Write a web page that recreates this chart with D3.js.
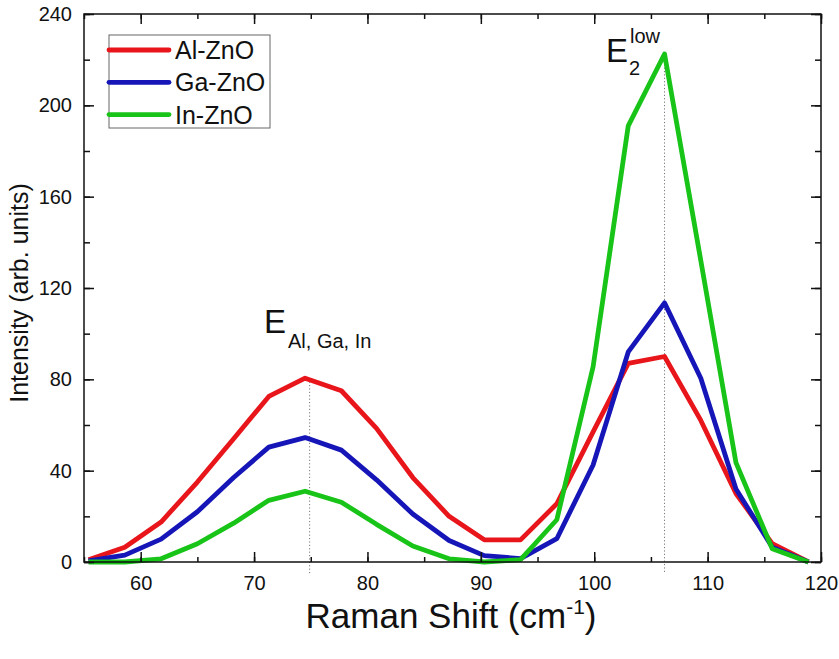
<!DOCTYPE html>
<html>
<head>
<meta charset="utf-8">
<script src="https://cdn.jsdelivr.net/npm/d3@7/dist/d3.min.js"></script>
<style>
  html, body { margin: 0; padding: 0; background: #fff; }
  svg { display: block; }
  text { font-family: "Liberation Sans", Arial, sans-serif; fill: #111; }
</style>
</head>
<body>
<svg id="chart" width="839" height="659"></svg>
<script>
// Raman shift sample positions (cm^-1)
const shift = [55.4, 58.6, 61.8, 65.0, 68.2, 71.3, 74.5, 77.7, 80.8, 84.0, 87.2,
               90.3, 93.5, 96.7, 99.9, 103.0, 106.2, 109.4, 112.5, 115.7, 118.9];

// Intensity (arb. units) for each doped film
const alZnO = [1, 6.5, 17.5, 35, 54, 72.5, 80.5, 75, 58.5, 37, 20,
               9.7, 9.7, 25.5, 57, 87, 90, 62, 30, 8, 0];
const gaZnO = [0.5, 3, 10, 22, 37, 50.3, 54.5, 49, 36, 21, 9.4,
               2.8, 1.5, 10.2, 42.5, 92, 113.5, 80.5, 32, 6.5, 0];
const inZnO = [0, 0, 1.4, 8, 17, 27, 31, 26.2, 16.5, 7, 1.4,
               0, 1, 18.5, 85.5, 191, 222.5, 132, 43.5, 5.8, 0];

const seriesNames = ["Al-ZnO", "Ga-ZnO", "In-ZnO"];
const seriesColors = ["#e8151b", "#1515b8", "#18c418"];
const seriesValues = [alZnO, gaZnO, inZnO];

// Axis ticks
const xTicks = [60, 70, 80, 90, 100, 110, 120];
const yTicks = [0, 40, 80, 120, 160, 200, 240];

// Mode positions marked with dotted guides
const modeShifts = [74.9, 106.2];

const svg = d3.select("#chart");
const margin = {left: 84, top: 14, right: 18, bottom: 97};
const W = 839, H = 659;
const x = d3.scaleLinear().domain([55, 120]).range([margin.left, W - margin.right]);
const y = d3.scaleLinear().domain([0, 240]).range([H - margin.bottom, margin.top]);

// Dotted guides at the two mode positions
const peakOf = s => d3.max(seriesValues, v => v[d3.minIndex(shift, d => Math.abs(d - s))]);
svg.append("g").selectAll("line").data(modeShifts).join("line")
  .attr("x1", d => x(d)).attr("x2", d => x(d))
  .attr("y1", d => y(peakOf(d))).attr("y2", y(0) + 12)
  .attr("stroke", "#777").attr("stroke-width", 1)
  .attr("stroke-dasharray", "1.2,2.2");

// Spectra
const line = d3.line().x((d, i) => x(shift[i])).y(d => y(d));
svg.append("g").selectAll("path").data(seriesValues).join("path")
  .attr("d", d => line(d))
  .attr("fill", "none")
  .attr("stroke", (d, i) => seriesColors[i])
  .attr("stroke-width", 4.8)
  .attr("stroke-linejoin", "round");

// Axes: ticks point inward on all four sides
const tickFont = "20px";
const minorX = d3.range(55, 121, 5);
const minorY = d3.range(0, 241, 20);

function styleAxis(g) {
  g.selectAll(".domain").remove();
  g.selectAll(".tick line").attr("stroke", "#111").attr("stroke-width", 1.5);
  g.selectAll(".tick text").style("font-size", tickFont)
    .style("font-family", "'Liberation Sans', Arial, sans-serif").attr("fill", "#111");
}

// bottom
svg.append("g").attr("transform", `translate(0,${y(0)})`)
  .call(d3.axisBottom(x).tickValues(minorX).tickSize(-5).tickFormat(""))
  .call(styleAxis);
svg.append("g").attr("transform", `translate(0,${y(0)})`)
  .call(d3.axisBottom(x).tickValues(xTicks).tickSize(-10).tickPadding(14).tickFormat(d3.format("d")))
  .call(styleAxis);
// top
svg.append("g").attr("transform", `translate(0,${y(240)})`)
  .call(d3.axisTop(x).tickValues(minorX).tickSize(-5).tickFormat(""))
  .call(styleAxis);
svg.append("g").attr("transform", `translate(0,${y(240)})`)
  .call(d3.axisTop(x).tickValues(xTicks).tickSize(-10).tickFormat(""))
  .call(styleAxis);
// left
svg.append("g").attr("transform", `translate(${x(55)},0)`)
  .call(d3.axisLeft(y).tickValues(minorY).tickSize(-6).tickFormat(""))
  .call(styleAxis);
svg.append("g").attr("transform", `translate(${x(55)},0)`)
  .call(d3.axisLeft(y).tickValues(yTicks).tickSize(-10).tickPadding(12).tickFormat(d3.format("d")))
  .call(styleAxis);
// right
svg.append("g").attr("transform", `translate(${x(120)},0)`)
  .call(d3.axisRight(y).tickValues(minorY).tickSize(-6).tickFormat(""))
  .call(styleAxis);
svg.append("g").attr("transform", `translate(${x(120)},0)`)
  .call(d3.axisRight(y).tickValues(yTicks).tickSize(-10).tickFormat(""))
  .call(styleAxis);

// Frame
svg.append("rect")
  .attr("x", x(55)).attr("y", y(240))
  .attr("width", x(120) - x(55)).attr("height", y(0) - y(240))
  .attr("fill", "none").attr("stroke", "#111").attr("stroke-width", 1.5);

// Axis titles
const xt = svg.append("text")
  .attr("x", 451).attr("y", 628)
  .attr("text-anchor", "middle")
  .style("font-size", "35px");
xt.append("tspan").text("Raman Shift (cm");
xt.append("tspan").attr("dy", -14).style("font-size", "21px").text("-1");
xt.append("tspan").attr("dy", 14).text(")");

svg.append("text")
  .attr("transform", "translate(28,293) rotate(-90)")
  .attr("text-anchor", "middle")
  .style("font-size", "25px")
  .text("Intensity (arb. units)");

// Mode labels
const e1 = svg.append("text").attr("x", 264).attr("y", 333).style("font-size", "33px");
e1.append("tspan").text("E");
e1.append("tspan").attr("dy", 15).attr("dx", 2).style("font-size", "20px").text("Al, Ga, In");

const e2 = svg.append("g");
e2.append("text").attr("x", 606).attr("y", 62).style("font-size", "33px").text("E");
e2.append("text").attr("x", 630).attr("y", 43).style("font-size", "20px").text("low");
e2.append("text").attr("x", 629).attr("y", 75).style("font-size", "20px").text("2");

// Legend
const legend = svg.append("g");
legend.append("rect")
  .attr("x", 109).attr("y", 35).attr("width", 161).attr("height", 93)
  .attr("fill", "#fff").attr("stroke", "#666").attr("stroke-width", 1);
const items = legend.selectAll("g.item").data(seriesNames).join("g")
  .attr("class", "item")
  .attr("transform", (d, i) => `translate(0,${50 + i * 32.3})`);
items.append("line")
  .attr("x1", 109).attr("x2", 169)
  .attr("stroke", (d, i) => seriesColors[i]).attr("stroke-width", 4.8)
  .attr("stroke-linecap", "round");
items.append("text")
  .attr("x", 175).attr("y", 9)
  .style("font-size", "25px")
  .text(d => d);
</script>
</body>
</html>
